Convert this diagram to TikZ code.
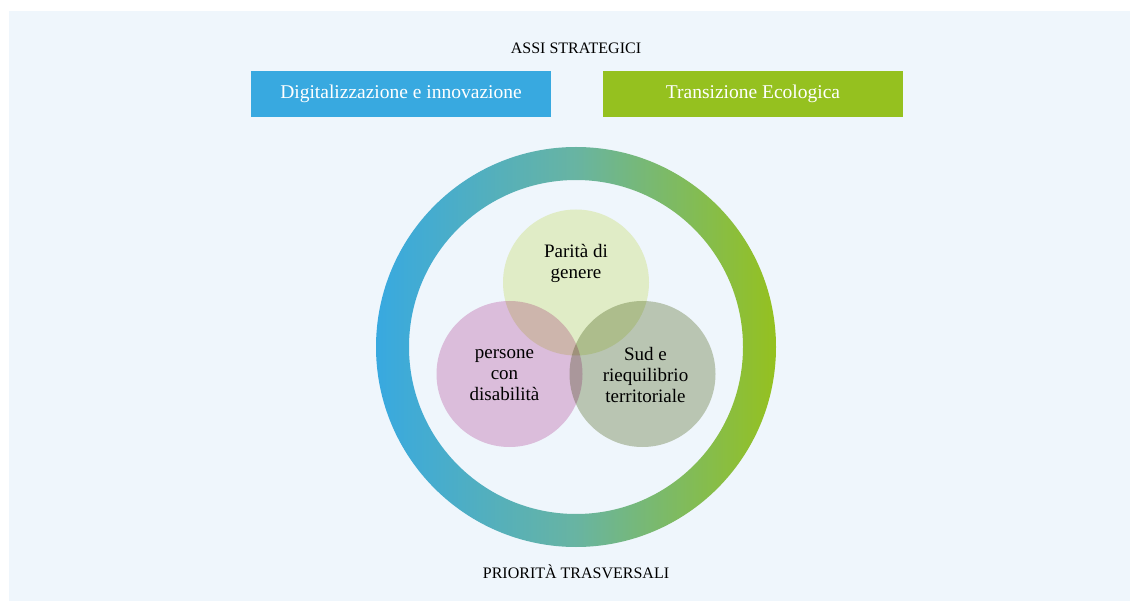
\documentclass[tikz,border=0pt]{standalone}
\usepackage{fontspec}
\setmainfont{Liberation Serif}
\usetikzlibrary{positioning}
\definecolor{panelbg}{HTML}{EFF6FC}
\definecolor{axisblue}{HTML}{38A9E0}
\definecolor{axisgreen}{HTML}{95C11F}
\definecolor{ringteal}{HTML}{68B4A2}
\definecolor{vennyellow}{HTML}{F0F5C9}
\definecolor{vennpink}{HTML}{EAC4DE}
\definecolor{venngray}{HTML}{C6CDB5}
\begin{document}
\begin{tikzpicture}[x=1pt, y=-1pt,
    axisbox/.style={minimum width=300pt, minimum height=46pt, inner sep=0pt,
      text=white, font=\fontsize{19.5}{22}\selectfont},
    heading/.style={fill=panelbg, inner sep=1pt, font=\fontsize{16}{18}\selectfont},
    venn/.style={circle, minimum size=146pt, inner sep=0pt},
    venntext/.style={align=center, font=\fontsize{19}{21}\selectfont}]
    \useasboundingbox (0,0) rectangle (1130,601);
    \fill[panelbg] (9,11) rectangle (1130,601);
    \node[heading] (assi) at (576,48) {ASSI STRATEGICI};
    \node[axisbox, fill=axisblue] (digit) at (401,94) {Digitalizzazione e innovazione};
    \node[axisbox, fill=axisgreen] (ecolog) at (753,94) {Transizione Ecologica};
    \shade[left color=axisblue, right color=axisgreen, middle color=ringteal, even odd rule]
        (576,347) circle (200pt) (576,347) circle (167pt);
    \begin{scope}[blend mode=multiply]
        \node[venn, fill=vennyellow] (parita) at (576,282.5) {};
        \node[venn, fill=vennpink] (disab) at (509.5,374) {};
        \node[venn, fill=venngray] (sud) at (642.5,374) {};
    \end{scope}
    \node[venntext] at (parita) [yshift=19.5pt] {Parità di\\genere};
    \node[venntext] at (disab) [xshift=-5pt, yshift=-1pt] {persone\\con\\disabilità};
    \node[venntext] at (sud) [xshift=3pt, yshift=-1pt] {Sud e\\riequilibrio\\territoriale};
    \node[heading] (priorita) at (576,572) {PRIORITÀ TRASVERSALI};
\end{tikzpicture}
\end{document}
